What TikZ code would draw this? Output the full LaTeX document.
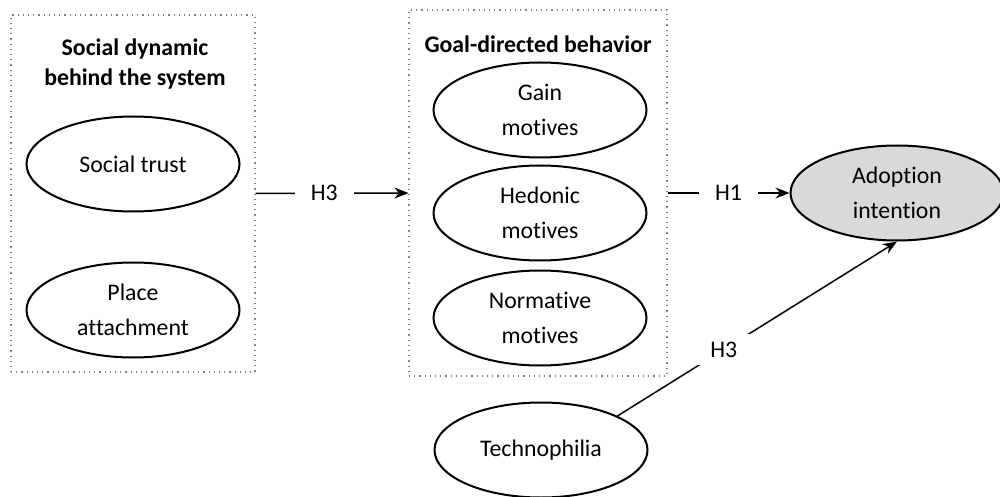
\documentclass[tikz,border=0pt]{standalone}
\usepackage{fontspec}
\setmainfont{Carlito}[Ligatures=NoCommon]
\usetikzlibrary{shapes.geometric,arrows.meta}
\begin{document}
\begin{tikzpicture}[x=0.5pt,y=-0.5pt,
  ell/.style={ellipse,draw,line width=1pt,minimum width=106.5pt,minimum height=47.5pt,inner sep=0pt,align=center,font=\fontsize{11.9}{17.5}\selectfont},
  grp/.style={draw=gray,dotted,line width=0.6pt,inner sep=0pt},
  ttl/.style={font=\bfseries\fontsize{11.9}{15}\selectfont,align=center},
  lab/.style={fill=white,font=\fontsize{11.9}{13}\selectfont,inner xsep=8pt,inner ysep=4pt},
  conn/.style={line width=0.75pt,-{Stealth[length=7pt,width=5.5pt]}}]
\useasboundingbox (0,0) rectangle (1000,497);
% group boxes
\node[grp,minimum width=122pt,minimum height=178.5pt] (boxL) at (133,193.5) {};
\node[grp,minimum width=129pt,minimum height=183pt] (boxM) at (538,193) {};
% titles
\node[ttl] (tL) at (135,64) {Social dynamic\\behind the system};
\node[ttl] (tM) at (538,44) {Goal-directed behavior};
% ellipses
\node[ell] (trust) at (133,164) {Social trust};
\node[ell] (place) at (133,310) {Place\\attachment};
\node[ell] (gain) at (540,110) {Gain\\motives};
\node[ell] (hed) at (540,213) {Hedonic\\motives};
\node[ell] (norm) at (540,318) {Normative\\motives};
\node[ell] (tech) at (541,450) {Technophilia};
\node[ell,fill={rgb,255:red,217;green,217;blue,217}] (adopt) at (897,193) {Adoption\\intention};
% connectors
\draw[conn] (boxL.east) -- node[lab,pos=0.45] (l1) {H3} (boxM.west);
\draw[conn] (boxM.east) -- node[lab] (l2) {H1} (adopt.west);
\draw[conn] (tech.24) -- node[lab,pos=0.38] (l3) {H3} (adopt.south);
\end{tikzpicture}
\end{document}
